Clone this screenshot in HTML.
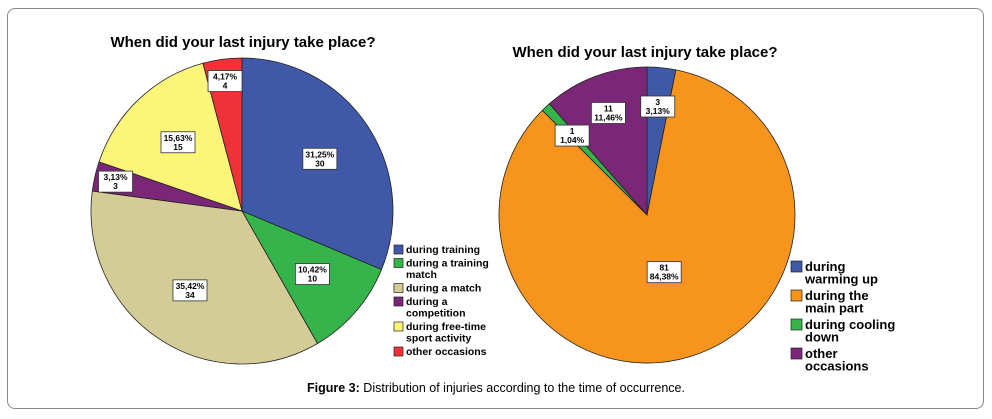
<!DOCTYPE html>
<html><head><meta charset="utf-8">
<style>
body{margin:0;background:#fff;width:992px;height:419px;overflow:hidden;font-family:"Liberation Sans",Arial,sans-serif;}
#frame{position:absolute;left:7px;top:8px;width:977px;height:401px;border:1px solid #888;border-radius:8px;box-sizing:border-box;}
</style></head><body>
<div id="frame"></div>
<svg id="c" width="992" height="419" style="position:absolute;left:0;top:0">
<text x="243" y="47" text-anchor="middle" font-size="15" font-weight="bold">When did your last injury take place?</text>
<text x="645" y="57" text-anchor="middle" font-size="15" font-weight="bold">When did your last injury take place?</text>
<text x="496" y="392" text-anchor="middle" font-size="12.5"><tspan font-weight="bold">Figure 3:</tspan> Distribution of injuries according to the time of occurrence.</text>
</svg>
<script>
const leftCats=["during training","during a training match","during a match","during a competition","during free-time sport activity","other occasions"];
const leftVals=[30,10,34,3,15,4];
const leftPct=["31,25%","10,42%","35,42%","3,13%","15,63%","4,17%"];
const leftColors=["#3f58a8","#34b44a","#d3cc96","#7b2778","#fbf57a","#ee3237"];
const leftLegend=[["during training"],["during a training","match"],["during a match"],["during a","competition"],["during free-time","sport activity"],["other occasions"]];
const rightCats=["during warming up","during the main part","during cooling down","other occasions"];
const rightVals=[3,81,1,11];
const rightPct=["3,13%","84,38%","1,04%","11,46%"];
const rightColors=["#3f58a8","#f7941d","#34b44a","#7b2778"];
const rightLegend=[["during","warming up"],["during the","main part"],["during cooling","down"],["other","occasions"]];
const NS="http://www.w3.org/2000/svg";
const svg=document.getElementById('c');
function mk(t,a){const e=document.createElementNS(NS,t);for(const k in a)e.setAttribute(k,a[k]);svg.appendChild(e);return e;}
function pie(vals,colors,cx,cy,rx,ry,pcts,countFirst,name,labFrac){
  const tot=vals.reduce((a,b)=>a+b,0);let cum=0;
  const pt=(f,s)=>{const a=f*2*Math.PI;return [cx+rx*s*Math.sin(a),cy-ry*s*Math.cos(a)];};
  vals.forEach((v,i)=>{
    const f0=cum/tot,f1=(cum+v)/tot;cum+=v;
    const p0=pt(f0,1),p1=pt(f1,1);const large=(f1-f0)>0.5?1:0;
    const p=mk('path',{d:`M${cx},${cy}L${p0[0]},${p0[1]}A${rx},${ry} 0 ${large} 1 ${p1[0]},${p1[1]}Z`,fill:colors[i],stroke:'#222','stroke-width':0.8});
    
    
  });
  cum=0;
  vals.forEach((v,i)=>{
    const fm=(cum+v/2)/tot;cum+=v;
    const fr=labFrac(v/tot);const c=pt(fm,fr);
    const l1=countFirst?String(v):pcts[i],l2=countFirst?pcts[i]:String(v);
    const r=mk('rect',{x:c[0]-17,y:c[1]-10,width:34,height:21,fill:'#fff',stroke:'#333','stroke-width':0.8});
    
    
    const t=mk('text',{x:c[0],y:c[1]-1,'text-anchor':'middle','font-size':8.5,'font-weight':'bold'});t.textContent=l1;
    
    
    const t2=mk('text',{x:c[0],y:c[1]+8,'text-anchor':'middle','font-size':8.5,'font-weight':'bold'});t2.textContent=l2;
    
    
  });
}
function legend(items,colors,x,y,fs,sw,lh,gap,name){
  let yy=y;
  items.forEach((lines,i)=>{
    const r=mk('rect',{x:x,y:yy-sw+2,width:sw,height:sw,fill:colors[i],stroke:'#222','stroke-width':0.7});
    
    
    lines.forEach((ln,j)=>{
      const t=mk('text',{x:x+sw+3,y:yy+j*lh+1,'font-size':fs,'font-weight':'bold'});t.textContent=ln;
      
      
    });
    yy+=lines.length*lh+gap;
  });
}
pie(leftVals,leftColors,242,211,151,153,leftPct,false,'left-pie',s=>s<0.06?0.86:0.62);
pie(rightVals,rightColors,647,215,148,148,rightPct,true,'right-pie',s=>s>0.5?0.4:0.74);
legend(leftLegend,leftColors,394,252,10.5,9,11.5,2,'left');
legend(rightLegend,rightColors,791,270,13,11,12.5,4,'right');
</script>
</body></html>
